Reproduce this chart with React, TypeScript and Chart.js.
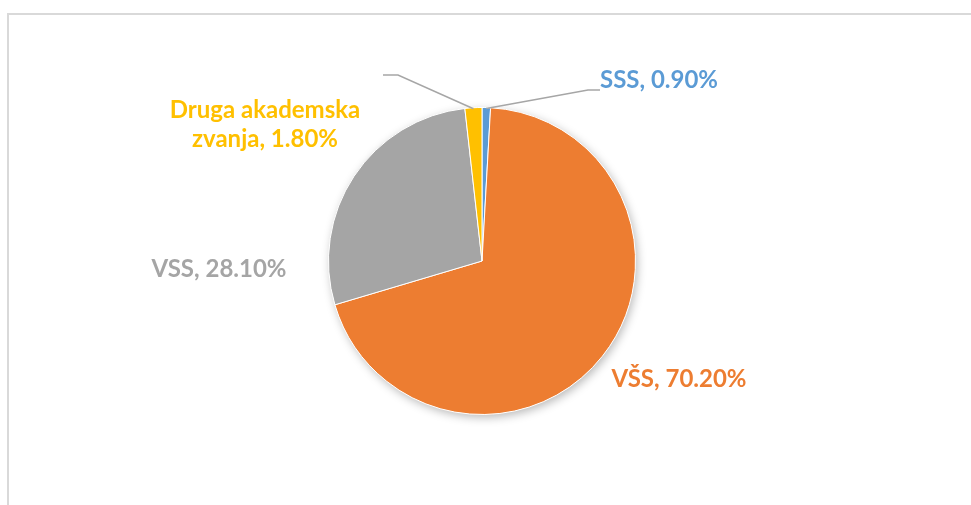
import React, { useEffect, useRef } from "react";
import { Chart, registerables } from "chart.js";

Chart.register(...registerables);

const categories = ["SSS", "VŠS", "VSS", "Druga akademska zvanja"];
const values = [0.9, 70.2, 28.1, 1.8];
const colors = ["#5B9BD5", "#ED7D31", "#A5A5A5", "#FFC000"];

// label layout: text lines, anchor (center x, baseline y), optional leader elbow/end
const labelLines = [["SSS, 0.90%"], ["VŠS, 70.20%"], ["VSS, 28.10%"], ["Druga akademska", "zvanja, 1.80%"]];
const labelLayout = [
  { x: 659, y: 88, leader: [[588, 90], [600, 90]] },
  { x: 679, y: 387, leader: null },
  { x: 219, y: 277, leader: null },
  { x: 265, y: 118, leader: [[398, 75], [383, 75]] },
];

const FONT = "bold 24px Lato, 'Open Sans', sans-serif";

const shadowPlugin = {
  id: "pieShadow",
  beforeDatasetsDraw(chart: any) {
    const meta = chart.getDatasetMeta(0);
    const arc = meta.data[0];
    if (!arc) return;
    const { x, y, outerRadius } = arc.getProps(["x", "y", "outerRadius"], true);
    const ctx = chart.ctx;
    ctx.save();
    ctx.shadowColor = "rgba(0,0,0,0.28)";
    ctx.shadowBlur = 10;
    ctx.shadowOffsetX = 2;
    ctx.shadowOffsetY = 3;
    ctx.fillStyle = "#ffffff";
    ctx.beginPath();
    ctx.arc(x, y, outerRadius, 0, Math.PI * 2);
    ctx.fill();
    ctx.restore();
  },
};

const labelPlugin = {
  id: "pieLabels",
  afterDraw(chart: any) {
    const ctx = chart.ctx;
    const meta = chart.getDatasetMeta(0);
    ctx.save();
    // frame
    ctx.strokeStyle = "#D9D9D9";
    ctx.lineWidth = 2;
    ctx.beginPath();
    ctx.moveTo(971, 14);
    ctx.lineTo(8, 14);
    ctx.lineTo(8, 505);
    ctx.stroke();

    meta.data.forEach((arc: any, i: number) => {
      const lay = labelLayout[i];
      if (lay.leader) {
        const p = arc.getProps(["x", "y", "startAngle", "endAngle", "outerRadius"], true);
        const mid = (p.startAngle + p.endAngle) / 2;
        const sx = p.x + Math.cos(mid) * (p.outerRadius - 1);
        const sy = p.y + Math.sin(mid) * (p.outerRadius - 1);
        ctx.strokeStyle = "#A6A6A6";
        ctx.lineWidth = 1.5;
        ctx.beginPath();
        ctx.moveTo(sx, sy);
        lay.leader.forEach((pt: number[]) => ctx.lineTo(pt[0], pt[1]));
        ctx.stroke();
      }
      ctx.fillStyle = colors[i];
      ctx.font = FONT;
      ctx.textAlign = "center";
      ctx.textBaseline = "alphabetic";
      labelLines[i].forEach((t, j) => ctx.fillText(t, lay.x, lay.y + j * 29));
    });
    ctx.restore();
  },
};

export default function App() {
  const ref = useRef<HTMLCanvasElement>(null);
  useEffect(() => {
    const chart = new Chart(ref.current!, {
      type: "pie",
      data: {
        labels: categories,
        datasets: [
          {
            data: values,
            backgroundColor: colors,
            borderColor: "#ffffff",
            borderWidth: 1,
          },
        ],
      },
      options: {
        responsive: false,
        animation: false,
        layout: { padding: { top: 107, bottom: 90, left: 328, right: 335 } },
        plugins: { legend: { display: false }, tooltip: { enabled: false } },
      },
      plugins: [shadowPlugin, labelPlugin],
    });
    return () => chart.destroy();
  }, []);
  return (
    <div style={{ position: "absolute", left: 0, top: 0, width: 971, height: 505, background: "#fff" }}>
      <canvas ref={ref} width={971} height={505} style={{ display: "block" }} />
    </div>
  );
}
